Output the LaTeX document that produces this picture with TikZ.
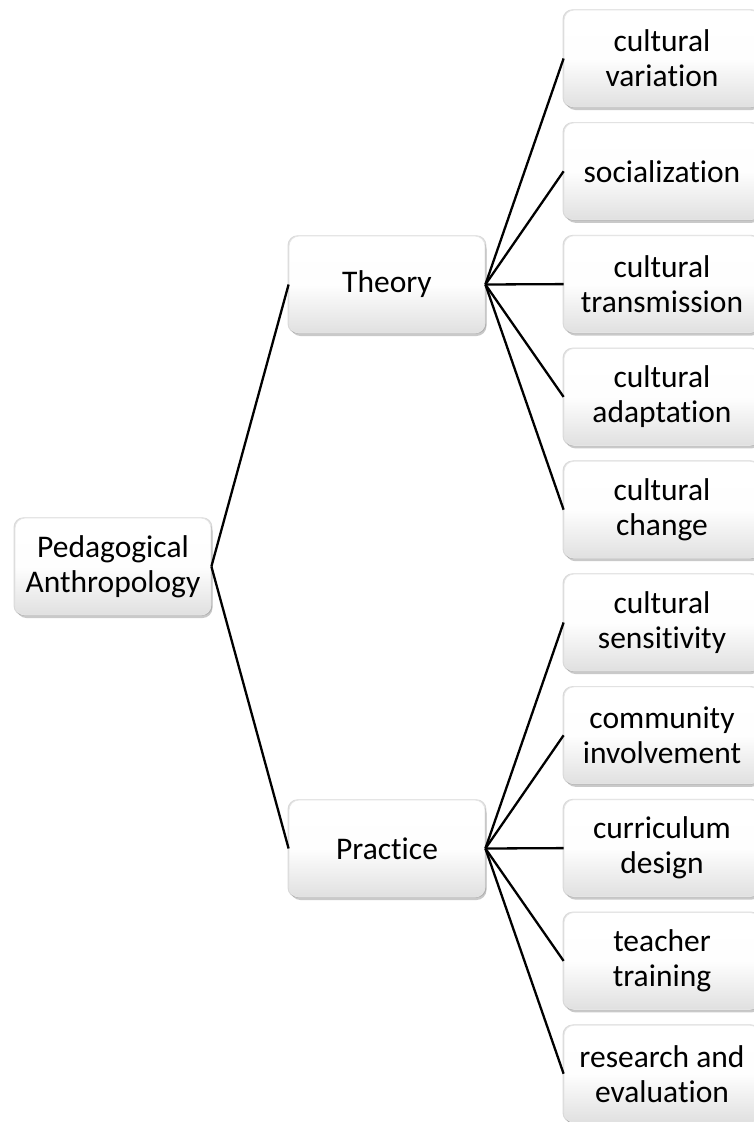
\documentclass[tikz,border=0pt]{standalone}
\usepackage{fontspec}
\setmainfont{Carlito}[RawFeature={-liga}]
\usetikzlibrary{shadows}
\definecolor{boxbottom}{HTML}{E0E0E0}
\begin{document}
\begin{tikzpicture}[x=1pt,y=-1pt,
  box/.style={rounded corners=10pt, minimum width=196pt, minimum height=97pt,
    inner sep=2pt, align=center, top color=white, bottom color=boxbottom,
    middle color=white!97!boxbottom,
    draw=black!10, line width=0.8pt,
    font=\fontsize{31.5}{35}\selectfont,
    general shadow={shadow xshift=0pt, shadow yshift=0pt, shadow scale=1.015, opacity=0.15, fill=black},
    drop shadow={shadow xshift=1.5pt, shadow yshift=-3pt, opacity=0.35, fill=black!60}},
  conn/.style={draw=black, line width=2.3pt}]
\useasboundingbox (0,0) rectangle (753,1122);
\fill[white] (0,0) rectangle (753,1122);
\node[box] (root) at (113,566.5) {Pedagogical\\Anthropology};
\node[box] (theory) at (387,284.5) {Theory};
\node[box] (practice) at (387,848.5) {Practice};
\node[box] (l1) at (662,58.5) {cultural\\variation};
\node[box] (l2) at (662,171.3) {socialization};
\node[box] (l3) at (662,284.1) {cultural\\transmission};
\node[box] (l4) at (662,396.9) {cultural\\adaptation};
\node[box] (l5) at (662,509.7) {cultural\\change};
\node[box] (l6) at (662,622.5) {cultural\\sensitivity};
\node[box] (l7) at (662,735.3) {community\\involvement};
\node[box] (l8) at (662,848.1) {curriculum\\design};
\node[box] (l9) at (662,960.9) {teacher\\training};
\node[box] (l10) at (662,1073.7) {research and\\evaluation};
\draw[conn] (root.east) -- (theory.west);
\draw[conn] (root.east) -- (practice.west);
\foreach \i in {1,...,5}{\draw[conn] (theory.east) -- (l\i.west);}
\foreach \i in {6,...,10}{\draw[conn] (practice.east) -- (l\i.west);}
\end{tikzpicture}
\end{document}
